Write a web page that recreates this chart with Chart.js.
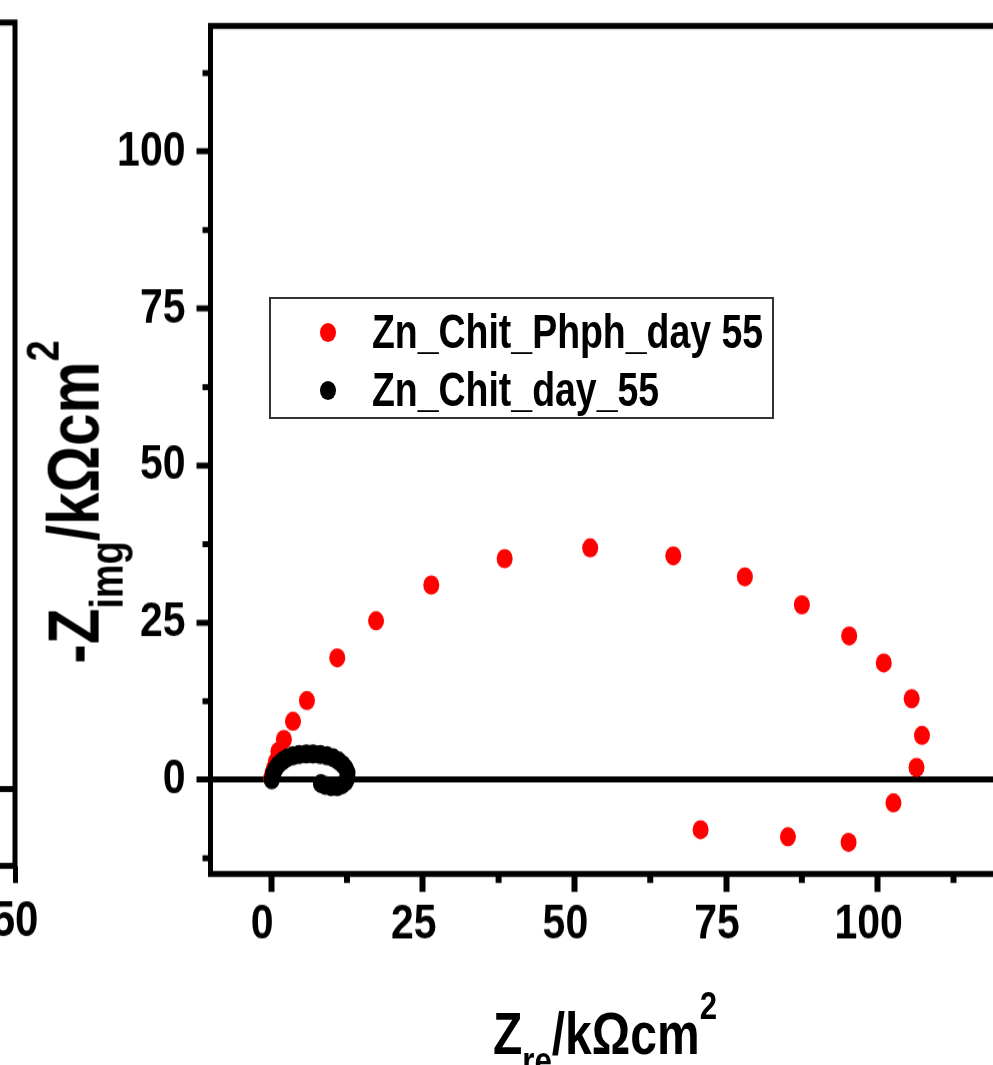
<!DOCTYPE html>
<html><head><meta charset="utf-8">
<script src="https://cdn.jsdelivr.net/npm/chart.js@4"></script>
<style>
html,body{margin:0;padding:0;width:993px;height:1065px;overflow:hidden;background:#fff;}
#wrap{position:relative;width:993px;height:1065px;overflow:hidden;}
canvas{position:absolute;top:0;transform:scaleY(1.2);transform-origin:0 0;}
.t{position:absolute;font-family:'Liberation Sans',Arial,sans-serif;font-weight:bold;color:#000;white-space:nowrap;line-height:1.15;}
.sub,.sup{position:relative;font-size:0.65em;}
#legend{position:absolute;left:269px;top:297px;width:501px;height:118px;border:2px solid #333;}
.ldot{position:absolute;width:16px;height:19px;border-radius:50%;}
.ltxt{position:absolute;font-size:48px;transform:scaleX(0.78);transform-origin:0 50%;}
</style></head><body><div id="wrap">
<canvas id="left" width="480" height="887.5" style="left:-405px"></canvas>
<canvas id="main" width="1010" height="887.5" style="left:0"></canvas>
<div id="legend"></div>
<div class="t" id="ytitle" style="font-size:72px;left:74px;top:502px;transform:translate(-50%,-50%) rotate(-90deg) scaleX(0.81);">-Z<span class="sub" style="top:24px">img</span>/kΩcm<span class="sup" style="top:-40px">2</span></div>
<div class="t" id="xtitle" style="font-size:60px;left:605px;top:999px;transform:translateX(-50%) scaleX(0.8);">Z<span class="sub" style="top:20px">re</span>/kΩcm<span class="sup" style="top:-35px">2</span></div>
</div>
<script>
// ---- data ----
const seriesNames = ['Zn_Chit_Phph_day 55', 'Zn_Chit_day_55'];
const seriesColors = ['#ff0000', '#000000'];
const redRe = [0.0, 0.2, 0.5, 0.8, 1.2, 2.1, 3.6, 5.9, 10.9, 17.3, 26.4, 38.5, 52.6, 66.3, 78.1, 87.5, 95.3, 101.0, 105.6, 107.3, 106.4, 102.6, 95.2, 85.2, 70.8];
const redIm = [0.2, 1.0, 1.9, 2.9, 4.5, 6.4, 9.3, 12.6, 19.4, 25.3, 31.0, 35.2, 36.9, 35.65, 32.3, 27.85, 22.9, 18.6, 12.9, 7.05, 1.96, -3.7, -9.97, -9.1, -7.96];
const blackRe = [0.1, 0.3, 0.7, 1.2, 1.9, 2.7, 3.6, 4.6, 5.8, 6.9, 8.1, 9.2, 10.2, 11.1, 11.8, 12.3, 12.6, 12.6, 12.3, 11.7, 10.9, 9.9, 8.9, 8.2];
const blackIm = [0.0, 0.9, 1.7, 2.4, 3.0, 3.5, 3.8, 4.0, 4.1, 4.1, 4.0, 3.8, 3.5, 3.0, 2.4, 1.8, 1.1, 0.3, -0.3, -0.8, -1.1, -1.1, -0.9, -0.6];
const xMajor = [0, 25, 50, 75, 100];
const xMinor = [12.5, 37.5, 62.5, 87.5, 112.5];
const yMajor = [0, 25, 50, 75, 100];
const yMinor = [-12.5, 12.5, 37.5, 62.5, 87.5, 112.5];
const xRange = [-10, 120];
const yRange = [-15, 120];
const leftXTicks = [50];
const leftXRange = [-10, 50];
const leftYRange = [-10, 100];

// ---- helpers ----
const FONT = "'Liberation Sans',Arial,sans-serif";
const framePlugin = { id:'frame', afterDraw(chart){
  const a = chart.chartArea, ctx = chart.ctx; ctx.save();
  ctx.strokeStyle = '#000'; ctx.lineWidth = 5;
  ctx.strokeRect(a.left, a.top, a.right - a.left, a.bottom - a.top); ctx.restore();
}};
const minorPlugin = { id:'minor', afterDraw(chart, args, opts){
  const ctx = chart.ctx, a = chart.chartArea, xs = chart.scales.x, ys = chart.scales.y;
  ctx.save(); ctx.strokeStyle = '#000';
  ctx.lineWidth = 6;
  (opts.x || []).forEach(v => { if (v < xs.min || v > xs.max) return;
    const p = xs.getPixelForValue(v); ctx.beginPath(); ctx.moveTo(p, a.bottom); ctx.lineTo(p, a.bottom + 7.5); ctx.stroke(); });
  ctx.lineWidth = 5;
  (opts.y || []).forEach(v => { if (v < ys.min || v > ys.max) return;
    const p = ys.getPixelForValue(v); ctx.beginPath(); ctx.moveTo(a.left, p); ctx.lineTo(a.left - 8, p); ctx.stroke(); });
  ctx.restore();
}};

// ---- main chart ----
new Chart(document.getElementById('main'), {
  type: 'scatter',
  data: { datasets: [
    { label: seriesNames[0], data: redRe.map((x, i) => ({x, y: redIm[i]})), pointRadius: 8, pointBorderWidth: 0, backgroundColor: seriesColors[0], borderColor: seriesColors[0], order: 1 },
    { label: seriesNames[1], data: blackRe.map((x, i) => ({x, y: blackIm[i]})), pointRadius: 8, pointBorderWidth: 0, backgroundColor: seriesColors[1], borderColor: seriesColors[1], order: 0 }
  ]},
  options: {
    responsive: false, animation: false, events: [],
    layout: { padding: { left: 0, top: 21.67, right: 11, bottom: 0 } },
    plugins: { legend: { display: false }, tooltip: { enabled: false }, minor: { x: xMinor, y: yMinor } },
    scales: {
      x: { type: 'linear', min: xRange[0], max: xRange[1],
        afterBuildTicks: s => { s.ticks = xMajor.map(v => ({value: v})); },
        afterFit: s => { s.height = 158.75; s.paddingLeft = 0; s.paddingRight = 0; },
        border: { display: false },
        grid: { drawOnChartArea: false, drawTicks: true, tickLength: 15, tickWidth: 6, tickColor: '#000' },
        ticks: { color: '#000', font: { family: FONT, weight: 'bold', size: 41 }, padding: 2.5, labelOffset: -9, maxRotation: 0, autoSkip: false }
      },
      y: { type: 'linear', min: yRange[0], max: yRange[1],
        afterBuildTicks: s => { s.ticks = yMajor.map(v => ({value: v})); },
        afterFit: s => { s.width = 210.5; s.paddingTop = 0; s.paddingBottom = 0; },
        border: { display: false },
        grid: { drawOnChartArea: true, drawTicks: true, tickLength: 14, tickWidth: 5, tickColor: '#000',
          color: c => (c.tick && c.tick.value === 0) ? '#000' : 'rgba(0,0,0,0)',
          lineWidth: c => (c.tick && c.tick.value === 0) ? 5 : 0 },
        ticks: { color: '#000', font: { family: FONT, weight: 'bold', size: 41 }, padding: 11, autoSkip: false }
      }
    }
  },
  plugins: [framePlugin, minorPlugin]
});

// ---- left (cropped) panel ----
new Chart(document.getElementById('left'), {
  type: 'scatter',
  data: { datasets: [] },
  options: {
    responsive: false, animation: false, events: [],
    layout: { padding: { left: 0, top: 18.75, right: 60, bottom: 0 } },
    plugins: { legend: { display: false }, tooltip: { enabled: false } },
    scales: {
      x: { type: 'linear', min: leftXRange[0], max: leftXRange[1],
        afterBuildTicks: s => { s.ticks = leftXTicks.map(v => ({value: v})); },
        afterFit: s => { s.height = 165.4; s.paddingLeft = 0; s.paddingRight = 0; },
        border: { display: false },
        grid: { drawOnChartArea: false, drawTicks: true, tickLength: 14.2, tickWidth: 5, tickColor: '#000' },
        ticks: { color: '#000', font: { family: FONT, weight: 'bold', size: 42 }, padding: 7.3, maxRotation: 0, autoSkip: false }
      },
      y: { type: 'linear', min: leftYRange[0], max: leftYRange[1],
        afterBuildTicks: s => { s.ticks = [{value: 0}]; },
        afterFit: s => { s.width = 50; s.paddingTop = 0; s.paddingBottom = 0; },
        border: { display: false },
        grid: { drawOnChartArea: true, drawTicks: false, color: '#000', lineWidth: 5 },
        ticks: { display: false }
      }
    }
  },
  plugins: [framePlugin]
});

// ---- legend (HTML, built from series arrays) ----
const leg = document.getElementById('legend');
const rowCenters = [33, 91];
seriesNames.forEach((name, i) => {
  const d = document.createElement('div'); d.className = 'ldot';
  d.style.background = seriesColors[i]; d.style.left = (57 - 8) + 'px'; d.style.top = (rowCenters[i] - 9.5) + 'px';
  leg.appendChild(d);
  const t = document.createElement('div'); t.className = 't ltxt'; t.textContent = name;
  t.style.left = '101px'; t.style.top = (rowCenters[i] - 28) + 'px';
  leg.appendChild(t);
});
</script>
</body></html>
